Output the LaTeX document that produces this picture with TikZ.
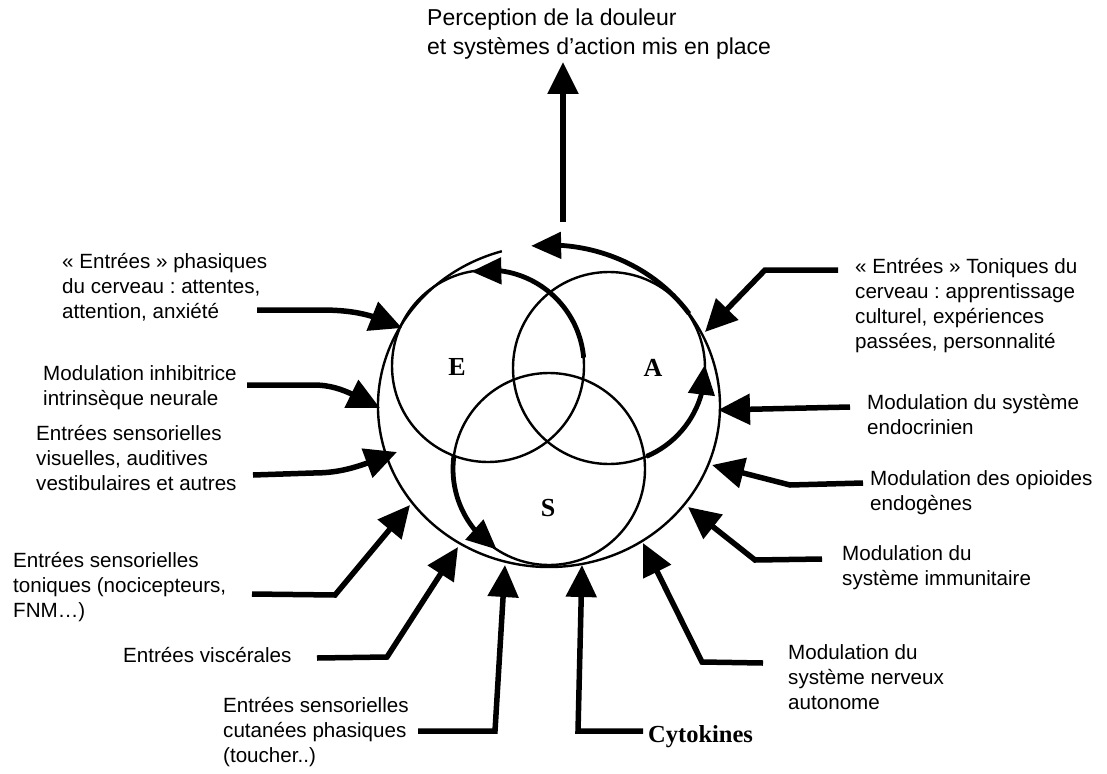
\documentclass[tikz,border=0pt]{standalone}
\usepackage{fontspec}
\setmainfont{Liberation Sans}
\newfontfamily\vennfont{Liberation Serif}
\usetikzlibrary{arrows.meta,bending}
\frenchspacing

\tikzset{
  lbl/.style={font={\fontsize{20.6}{25}\selectfont},align=left,anchor=base west,inner sep=0pt},
  venn/.style={font={\vennfont\bfseries\fontsize{26}{26}\selectfont},inner sep=0pt},
  ring/.style={line width=2.4pt},
  feed/.style={line width=5.5pt,-{Triangle[length=32pt,width=30pt]}},
  fatarc/.style={line width=4.8pt,-{Triangle[length=30pt,width=26pt]}},
}

\begin{document}
\begin{tikzpicture}[x=1pt,y=1pt]
\path[use as bounding box] (0,0) rectangle (1107,-773);

\coordinate (O) at (549,-406);
\coordinate (cE) at (488,-366);
\coordinate (cA) at (609,-368);
\coordinate (cS) at (549,-469);
\draw[ring] (cE) circle[radius=96];
\draw[ring] (cA) circle[radius=96];
\draw[ring] (cS) circle[radius=96];
\draw[ring] (O) ++(106:171 and 161) arc[start angle=106,end angle=400,x radius=171,y radius=161];
\node[venn] (E) at (457,-367) {E};
\node[venn] (A) at (653,-368) {A};
\node[venn] (S) at (548,-508) {S};

\draw[fatarc] (O) ++(35:171 and 161) arc[start angle=35,end angle=96,x radius=171,y radius=161];
\draw[fatarc] (cE) ++(5:96) arc[start angle=5,end angle=100,radius=96];
\draw[fatarc] (cA) ++(-67:96) arc[start angle=-67,end angle=2,radius=96];
\draw[fatarc] (cS) ++(172:96) arc[start angle=172,end angle=237,radius=96];

% base = last line of each label
\node[lbl,font={\fontsize{23}{29}\selectfont}] (perc) at (427,-55) {Perception de la douleur\\et systèmes d’action mis en place};
\node[lbl] (phas) at (62,-318) {« Entrées » phasiques\\du cerveau : attentes,\\attention, anxiété};
\node[lbl] (inhib) at (43,-405) {Modulation inhibitrice\\intrinsèque neurale};
\node[lbl] (visu) at (36,-490) {Entrées sensorielles\\visuelles, auditives\\vestibulaires et autres};
\node[lbl] (toni) at (13,-617) {Entrées sensorielles\\toniques (nocicepteurs,\\FNM…)};
\node[lbl] (visc) at (123,-662) {Entrées viscérales};
\node[lbl] (cuta) at (223,-762) {Entrées sensorielles\\cutanées phasiques\\(toucher..)};
\node[lbl,font={\vennfont\bfseries\fontsize{24.5}{24.5}\selectfont}] (cyto) at (648,-742) {Cytokines};
\node[lbl] (tonc) at (855,-348) {« Entrées » Toniques du\\cerveau : apprentissage\\culturel, expériences\\passées, personnalité};
\node[lbl] (endo) at (867,-434) {Modulation du système\\endocrinien};
\node[lbl] (opio) at (870,-510) {Modulation des opioides\\endogènes};
\node[lbl] (immu) at (842,-585) {Modulation du\\système immunitaire};
\node[lbl] (auto) at (788,-709) {Modulation du\\système nerveux\\autonome};

\coordinate (sPerc) at (563,-222);  \coordinate (tPerc) at (563,-62);
\coordinate (sPhas) at (257,-310);  \coordinate (tPhas) at (402,-328);
\coordinate (sInhib) at (247,-385); \coordinate (tInhib) at (380,-408);
\coordinate (sVisu) at (253,-475);  \coordinate (tVisu) at (397,-452);
\coordinate (sToni) at (252,-594);  \coordinate (tToni) at (410,-505);
\coordinate (sVisc) at (317,-658);  \coordinate (tVisc) at (458,-547);
\coordinate (sCuta) at (418,-731);  \coordinate (tCuta) at (505,-565);
\coordinate (sCyto) at (643,-731);  \coordinate (tCyto) at (582,-565);
\coordinate (sAuto) at (763,-663);  \coordinate (tAuto) at (643,-543);
\coordinate (sImmu) at (822,-559);  \coordinate (tImmu) at (688,-507);
\coordinate (sOpio) at (863,-483);  \coordinate (tOpio) at (712,-465);
\coordinate (sEndo) at (850,-407);  \coordinate (tEndo) at (718,-410);
\coordinate (sTonc) at (838,-270);  \coordinate (tTonc) at (705,-332);

\draw[feed] (sPerc) -- (tPerc);
\draw[feed] (sPhas) -- ++(63,0) to[out=0,in=155] (tPhas);
\draw[feed] (sInhib) -- ++(66,0) to[out=0,in=155] (tInhib);
\draw[feed] (sVisu) -- ++(60,2) to[out=0,in=200] (tVisu);
\draw[feed] (sToni) -- ++(83,-1) -- (tToni);
\draw[feed] (sVisc) -- ++(70,1) -- (tVisc);
\draw[feed] (sCuta) -- ++(77,0) -- (tCuta);
\draw[feed] (sCyto) -- ++(-65,0) -- (tCyto);
\draw[feed] (sAuto) -- ++(-61,1) -- (tAuto);
\draw[feed] (sImmu) -- ++(-67,-1) -- (tImmu);
\draw[feed] (sOpio) -- ++(-73,-2) -- (tOpio);
\draw[feed] (sEndo) -- (tEndo);
\draw[feed] (sTonc) -- ++(-73,0) -- (tTonc);
\end{tikzpicture}
\end{document}
